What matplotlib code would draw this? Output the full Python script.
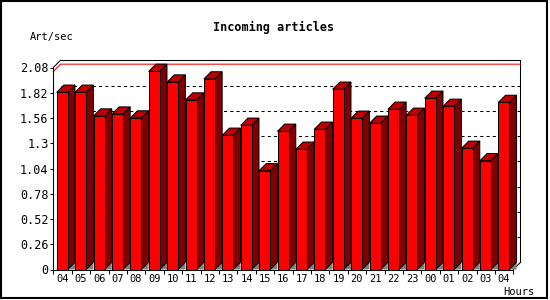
import matplotlib
matplotlib.use("Agg")
import matplotlib.pyplot as plt
from matplotlib.patches import Polygon, Rectangle
from matplotlib.lines import Line2D

# ---- data ----
hours = ["04", "05", "06", "07", "08", "09", "10", "11", "12", "13", "14", "15", "16",
         "17", "18", "19", "20", "21", "22", "23", "00", "01", "02", "03", "04"]
values = [1.825, 1.825, 1.58, 1.60, 1.56, 2.04, 1.93, 1.745, 1.962, 1.382, 1.485, 1.017,
          1.423, 1.238, 1.444, 1.856, 1.557, 1.506, 1.65, 1.588, 1.763, 1.68, 1.248, 1.12, 1.72]
yticks = [0, 0.26, 0.52, 0.78, 1.04, 1.3, 1.56, 1.82, 2.08]
ytick_labels = ["0", "0.26", "0.52", "0.78", "1.04", "1.3", "1.56", "1.82", "2.08"]
title = "Incoming articles"
ylabel = "Art/sec"
xlabel = "Hours"

W, H = 550, 300
fig = plt.figure(figsize=(W / 100, H / 100), dpi=100)
fig.patch.set_facecolor("white")

def fx(px):
    return px / W

def fy(py):
    return 1 - py / H

# main axes = front plane
x0p, x1p, y0p, y1p = 53.3, 513.3, 269.5, 67.5
ax = fig.add_axes([fx(x0p), fy(y0p), fx(x1p) - fx(x0p), fy(y1p) - fy(y0p)])
n = len(values)
ymax = yticks[-1]
ax.set_xlim(0, n)
ax.set_ylim(0, ymax)
ax.set_facecolor("none")

px_per_x = (x1p - x0p) / n
px_per_y = (y0p - y1p) / ymax
depth_px = 7.2
dx = depth_px / px_per_x
dy = depth_px / px_per_y

lw = 0.75
for s in ["top", "right"]:
    ax.spines[s].set_visible(False)
for s in ["left", "bottom"]:
    ax.spines[s].set_linewidth(lw)
    ax.spines[s].set_zorder(20)

# ticks
ax.set_yticks(yticks)
ax.set_yticklabels(ytick_labels, family="DejaVu Sans Mono", fontsize=8.5)
ax.tick_params(axis="y", direction="out", length=2.4, width=lw, pad=1.0)
ax.set_xticks(range(n + 1))
ax.set_xticklabels([""] * (n + 1))
ax.set_xticks([i + 0.5 for i in range(n)], minor=True)
ax.set_xticklabels(hours, minor=True, family="DejaVu Sans Mono", fontsize=7.5)
ax.tick_params(axis="x", which="major", direction="out", length=3.2, width=lw)
ax.tick_params(axis="x", which="minor", length=0, pad=3.5)

# back plane grid (dashed)
for v in yticks[1:-1]:
    ax.add_line(Line2D([dx, n + dx], [v + dy, v + dy], color="black", lw=lw,
                       linestyle=(0, (3, 3)), zorder=1, clip_on=False))

# frame lines (3D box)
frame = [([0, dx], [ymax, ymax + dy]),
         ([dx, n + dx], [ymax + dy, ymax + dy]),
         ([n + dx, n + dx], [ymax + dy, dy]),
         ([n + dx, n], [dy, 0])]
for xs, ys in frame:
    ax.add_line(Line2D(xs, ys, color="black", lw=lw, zorder=2, clip_on=False,
                       solid_capstyle="projecting"))

# max line (red)
vmax = max(values)
ax.add_line(Line2D([0, dx, n + dx], [vmax, vmax + dy, vmax + dy], color="#ff0000",
                   lw=lw, zorder=3, clip_on=False))

# bars
bar_off = 0.185
bar_w = 0.6
for i, v in enumerate(values):
    xl = i + bar_off
    xr = xl + bar_w
    # floor triangle
    ax.add_patch(Polygon([(xr, 0), (xr + dx, dy), (xr + dx, 0)], closed=True,
                         facecolor="#808080", edgecolor="none",
                         zorder=5, clip_on=False))
    # side face
    ax.add_patch(Polygon([(xr, 0), (xr, v), (xr + dx, v + dy), (xr + dx, dy)], closed=True,
                         facecolor="#800000", edgecolor="black", lw=lw,
                         zorder=6, clip_on=False))
    # top face
    ax.add_patch(Polygon([(xl, v), (xl + dx, v + dy), (xr + dx, v + dy), (xr, v)], closed=True,
                         facecolor="#c00000", edgecolor="black", lw=lw,
                         zorder=6, clip_on=False))
    # front face
    ax.add_patch(Rectangle((xl, 0), bar_w, v, facecolor="#ff0000", edgecolor="black",
                           lw=lw, zorder=7, clip_on=False))

# texts
fig.text(fx(274), fy(27), title, ha="center", va="center", family="DejaVu Sans Mono",
         fontsize=8.5, fontweight="bold")
fig.text(fx(29.5), fy(37), ylabel, ha="left", va="center", family="DejaVu Sans Mono",
         fontsize=7.5)
fig.text(fx(503.5), fy(292), xlabel, ha="left", va="center", family="DejaVu Sans Mono",
         fontsize=7.5)

# outer border
fig.patches.append(Rectangle((fx(1), fy(298)), fx(546.5) - fx(1), fy(1) - fy(298),
                             transform=fig.transFigure, fill=False, edgecolor="black",
                             lw=1.5, zorder=0))

fig.savefig("out.png", dpi=100, facecolor="white")
